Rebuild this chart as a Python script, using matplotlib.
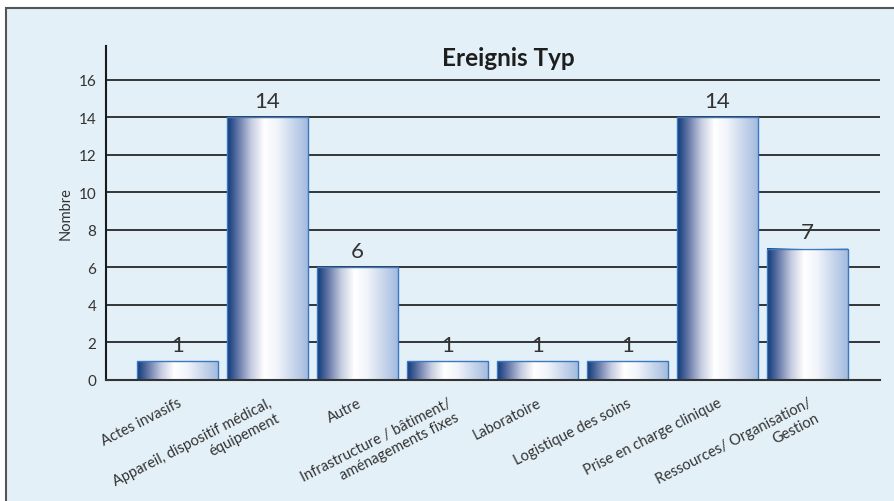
import numpy as np
import matplotlib
matplotlib.use("Agg")
import matplotlib.pyplot as plt
from matplotlib.colors import LinearSegmentedColormap
from matplotlib.patches import Rectangle

plt.rcParams['font.family'] = ['Lato', 'DejaVu Sans']

# Ereignis-Typen und Anzahl
categories = [
    "Actes invasifs",
    "Appareil, dispositif médical,\néquipement",
    "Autre",
    "Infrastructure / bâtiment/\naménagements fixes",
    "Laboratoire",
    "Logistique des soins",
    "Prise en charge clinique",
    "Ressources/ Organisation/\nGestion",
]
counts = [1, 14, 6, 1, 1, 1, 14, 7]
yticks = [0, 2, 4, 6, 8, 10, 12, 14, 16]

bg = '#e3f0f7'
grad = LinearSegmentedColormap.from_list('bar', [
    (0.0, '#0b3a7a'), (0.12, '#5a6ea2'), (0.3, '#c6cce0'),
    (0.46, '#ffffff'), (0.62, '#f1f4fa'), (1.0, '#a3bbdf')])

fig = plt.figure(figsize=(8.95, 5.02), dpi=100)
fig.patch.set_facecolor('white')
fig.patches.append(Rectangle((6/895, -0.02), 1.0, 1 - 9/502 + 0.02,
                             transform=fig.transFigure, facecolor=bg,
                             edgecolor='#555555', lw=1.5, zorder=-10))

ax = fig.add_axes([106/895, 121/502, 774/895, 334/502])
ax.set_facecolor('none')

x = np.arange(len(categories))
w = 0.9
g = np.linspace(0, 1, 256).reshape(1, -1)
for xi, v in zip(x, counts):
    ax.imshow(g, cmap=grad, aspect='auto', extent=(xi - w/2, xi + w/2, 0, v),
              zorder=2, interpolation='bilinear')
    ax.add_patch(Rectangle((xi - w/2, 0), w, v, fill=False,
                           edgecolor='#3b78bf', lw=1.0, zorder=3))
    ax.text(xi, v + 0.55, str(v), ha='center', va='baseline',
            fontsize=16, color='#333333', zorder=4)

ax.set_xlim(-0.795, 7.806)
ax.set_ylim(0, 17.8)

for t in yticks[1:]:
    ax.axhline(t, color='#262626', lw=1.3, zorder=1)

ax.set_yticks(yticks)
ax.tick_params(axis='y', length=0, pad=7, labelsize=11, labelcolor='#333333')
ax.set_xticks(x)
ax.set_xticklabels(categories, rotation=27, ha='right', va='top',
                   rotation_mode='anchor', multialignment='right',
                   linespacing=1.25, fontsize=10.5, color='#333333')
ax.tick_params(axis='x', length=0, pad=11)

for s in ['top', 'right']:
    ax.spines[s].set_visible(False)
ax.spines['left'].set_linewidth(1.5)
ax.spines['left'].set_color('#1a1a1a')
ax.spines['bottom'].set_linewidth(1.5)
ax.spines['bottom'].set_color('#333333')
ax.spines['bottom'].set_zorder(5)

ax.set_ylabel('Nombre', fontsize=10.5, color='#333333', labelpad=4)

fig.text(508/895, 1 - 58/502, 'Ereignis Typ', ha='center', va='center',
         fontsize=17.5, fontweight='bold', color='#1e1e1e')

fig.savefig('out.png', dpi=100)
